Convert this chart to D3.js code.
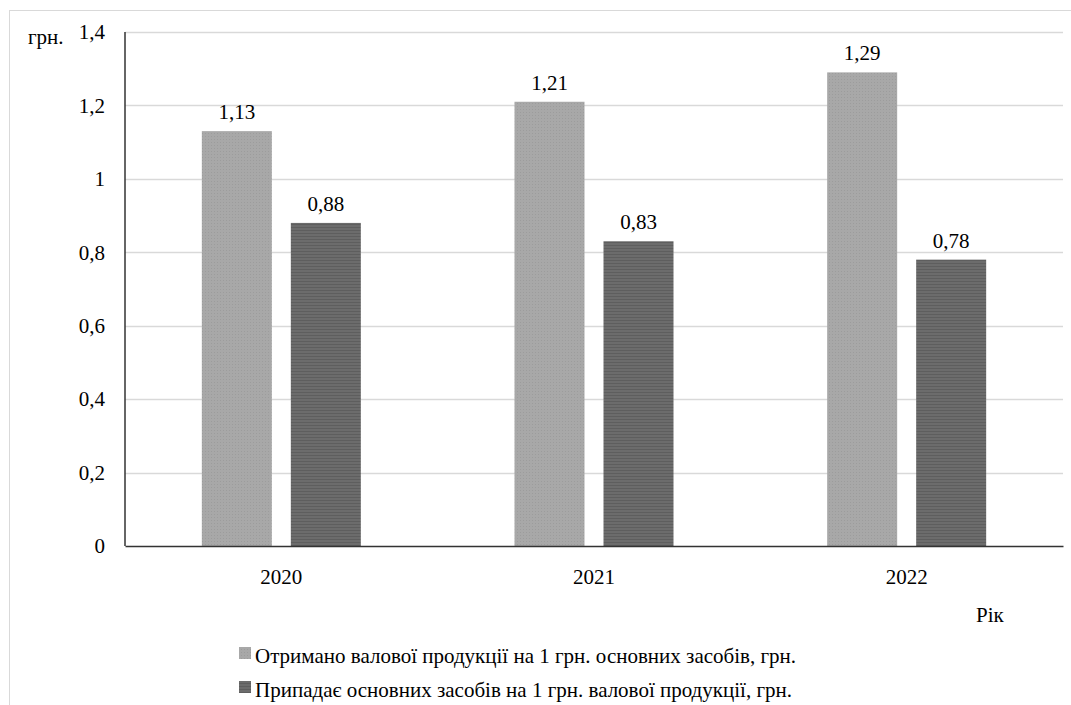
<!DOCTYPE html>
<html>
<head>
<meta charset="utf-8">
<script src="https://cdn.jsdelivr.net/npm/d3@7"></script>
</head>
<body style="margin:0">
<svg id="chart" width="1071" height="705"></svg>
<script>
const years = ["2020", "2021", "2022"];
const outputPerAsset = [1.13, 1.21, 1.29];
const assetPerOutput = [0.88, 0.83, 0.78];
const yTicks = [0, 0.2, 0.4, 0.6, 0.8, 1, 1.2, 1.4];
const seriesNames = [
  "Отримано валової продукції на 1 грн. основних засобів, грн.",
  "Припадає основних засобів на 1 грн. валової продукції, грн."
];

const FONT = "'Times New Roman', 'Liberation Serif', Tinos, serif";
const FS = 21;
const svg = d3.select("#chart").style("font-family", FONT);
const fmt = v => String(v).replace(".", ",");
const styleText = sel => sel.style("font-family", FONT).attr("font-size", FS).attr("fill", "#000");

// textured fills
const defs = svg.append("defs");
const pLight = defs.append("pattern").attr("id", "texLight")
  .attr("width", 3).attr("height", 3).attr("patternUnits", "userSpaceOnUse");
pLight.append("rect").attr("width", 3).attr("height", 3).attr("fill", "#a8a8a8");
pLight.append("rect").attr("x", 1).attr("y", 1).attr("width", 1).attr("height", 1).attr("fill", "#9c9c9c");
const pDark = defs.append("pattern").attr("id", "texDark")
  .attr("width", 4).attr("height", 3).attr("patternUnits", "userSpaceOnUse");
pDark.append("rect").attr("width", 4).attr("height", 3).attr("fill", "#6c6c6c");
pDark.append("rect").attr("y", 2).attr("width", 4).attr("height", 1).attr("fill", "#5e5e5e");
const fills = ["url(#texLight)", "url(#texDark)"];

// outer frame
svg.append("rect").attr("x", 9.5).attr("y", 10.5).attr("width", 1100).attr("height", 720)
  .attr("fill", "none").attr("stroke", "#d9d9d9").attr("stroke-width", 1);

const plotLeft = 125, plotRight = 1063, plotTop = 32, plotBottom = 546;
const x = d3.scaleBand().domain(years).range([plotLeft, plotRight]);
const y = d3.scaleLinear().domain([0, 1.4]).range([plotBottom, plotTop]);

// gridlines
svg.append("g").selectAll("line").data(yTicks.filter(t => t > 0)).join("line")
  .attr("x1", plotLeft).attr("x2", plotRight)
  .attr("y1", d => Math.round(y(d)) + 0.5).attr("y2", d => Math.round(y(d)) + 0.5)
  .attr("stroke", "#d9d9d9").attr("stroke-width", 1.3);

// y tick labels
const yAxis = d3.axisLeft(y).tickValues(yTicks).tickFormat(fmt).tickSize(0).tickPadding(20);
const gy = svg.append("g").attr("transform", `translate(${plotLeft},0)`).call(yAxis);
gy.select(".domain").remove();
gy.attr("font-family", null).attr("font-size", null);
styleText(gy.selectAll("text"));

// bars and value labels
const barW = 70, offset = 44.5;
const series = [outputPerAsset, assetPerOutput];
series.forEach((vals, si) => {
  const g = svg.append("g");
  const cx = d => x(d) + x.bandwidth() / 2 + (si === 0 ? -offset : offset);
  g.selectAll("rect").data(years).join("rect")
    .attr("x", d => cx(d) - barW / 2)
    .attr("width", barW)
    .attr("y", (d, i) => y(vals[i]))
    .attr("height", (d, i) => y(0) - y(vals[i]))
    .attr("fill", fills[si]);
  g.selectAll("text").data(years).join("text")
    .attr("x", d => cx(d))
    .attr("y", (d, i) => y(vals[i]) - 12)
    .attr("text-anchor", "middle")
    .call(styleText)
    .text((d, i) => fmt(vals[i]));
});

// axes
const xAxis = d3.axisBottom(x).tickSize(0).tickPadding(23);
const gx = svg.append("g").attr("transform", `translate(0,${plotBottom})`).call(xAxis);
gx.attr("font-family", null).attr("font-size", null);
gx.select(".domain").attr("stroke", "#333").attr("stroke-width", 1.5);
styleText(gx.selectAll("text"));
svg.append("line").attr("x1", plotLeft).attr("x2", plotLeft).attr("y1", plotTop).attr("y2", plotBottom)
  .attr("stroke", "#333").attr("stroke-width", 1.5);

// axis titles
svg.append("text").attr("x", 28).attr("y", 44).call(styleText).text("грн.");
svg.append("text").attr("x", 976).attr("y", 622).call(styleText).text("Рік");

// legend
const legend = svg.append("g");
seriesNames.forEach((name, i) => {
  const ly = 663 + i * 34;
  legend.append("rect").attr("x", 239).attr("y", ly - 16).attr("width", 12).attr("height", 12)
    .attr("fill", fills[i]);
  legend.append("text").attr("x", 255).attr("y", ly).call(styleText).text(name);
});
</script>
</body>
</html>
